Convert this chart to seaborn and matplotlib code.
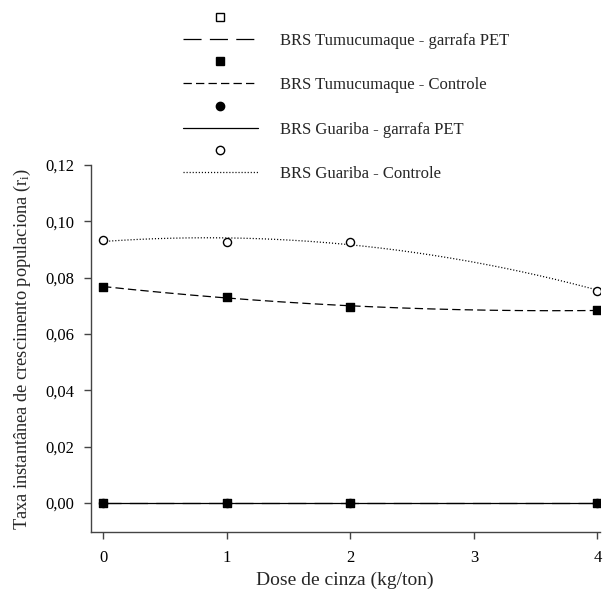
import numpy as np
import pandas as pd
import matplotlib
matplotlib.use("Agg")
import matplotlib.pyplot as plt
from matplotlib.lines import Line2D
import seaborn as sns

# ---- data ----
doses = [0, 1, 2, 4]
tumu_pet = [0.0, 0.0, 0.0, 0.0]
tumu_ctrl = [0.0767, 0.0732, 0.0697, 0.0684]
guar_pet = [0.0, 0.0, 0.0, 0.0]
guar_ctrl = [0.0934, 0.0926, 0.0928, 0.0754]
labels = ["BRS Tumucumaque - garrafa PET", "BRS Tumucumaque - Controle",
          "BRS Guariba - garrafa PET", "BRS Guariba - Controle"]
yticks = [0.00, 0.02, 0.04, 0.06, 0.08, 0.10, 0.12]
xticks = [0, 1, 2, 3, 4]

sns.set_style("ticks")
plt.rcParams["font.family"] = ["Liberation Serif", "DejaVu Serif"]
plt.rcParams["mathtext.fontset"] = "custom"
plt.rcParams["mathtext.rm"] = "Liberation Serif"
plt.rcParams["mathtext.it"] = "Liberation Serif:italic"
plt.rcParams["lines.scale_dashes"] = False

fig = plt.figure(figsize=(6.14, 6.01), dpi=100)
ax = fig.add_axes([0.1477, 0.1148, 0.977 - 0.1477, 0.7255 - 0.1148])

styles = [
    dict(dashes=(13, 6), marker="s", mfc="white"),
    dict(dashes=(6, 3), marker="s", mfc="black"),
    dict(dashes=None, marker="o", mfc="black"),
    dict(dashes=(0.8, 1.4), marker="o", mfc="white"),
]
series = [tumu_pet, tumu_ctrl, guar_pet, guar_ctrl]

xs = np.linspace(0, 4, 200)
handles, leg_labels = [], []
for vals, st, lab in zip(series, styles, labels):
    coef = np.polyfit(doses, vals, 2)
    fit = pd.DataFrame({"x": xs, "y": np.polyval(coef, xs)})
    sns.lineplot(data=fit, x="x", y="y", ax=ax, color="black", lw=0.9)
    ln = ax.lines[-1]
    if st["dashes"] is not None:
        ln.set_dashes(st["dashes"])
    pts = pd.DataFrame({"x": doses, "y": vals})
    sns.scatterplot(data=pts, x="x", y="y", ax=ax, marker=st["marker"], s=34,
                    facecolor=st["mfc"], edgecolor="black", linewidth=1.0, zorder=5)
    mh = Line2D([], [], ls="none", marker=st["marker"], markersize=6,
                mfc=st["mfc"], mec="black", mew=1.0)
    if st["dashes"] is None:
        lh = Line2D([], [], color="black", lw=0.9)
    else:
        lh = Line2D([], [], color="black", lw=0.9, dashes=st["dashes"])
    handles += [mh, lh]
    leg_labels += ["", lab]

ax.set_xlim(-0.1, 4.02)
ax.set_ylim(-0.0103, 0.12)
ax.set_xticks(xticks)
ax.set_xticklabels([str(t) for t in xticks])
ax.set_yticks(yticks)
ax.set_yticklabels([f"{t:.2f}".replace(".", ",") for t in yticks])
for s in ["top", "right"]:
    ax.spines[s].set_visible(False)
for s in ["left", "bottom"]:
    ax.spines[s].set_color("#444444")
    ax.spines[s].set_linewidth(1.0)
ax.tick_params(axis="both", direction="out", length=5, width=1.0,
               color="#444444", labelsize=12, labelcolor="black")
ax.tick_params(axis="y", pad=7)
ax.tick_params(axis="x", pad=8)

ax.set_xlabel("Dose de cinza (kg/ton)", fontsize=14, labelpad=4)
ax.set_ylabel(r"Taxa instantânea de crescimento populaciona (r$_\mathrm{i}$)",
              fontsize=13.2, labelpad=9)

fig.legend(handles, leg_labels, loc="upper left", bbox_to_anchor=(0.298, 0.982),
           frameon=False, fontsize=12, handlelength=4.5, handletextpad=1.3,
           labelspacing=0.37, borderpad=0, borderaxespad=0)

fig.savefig("out.png", dpi=100, facecolor="white")
